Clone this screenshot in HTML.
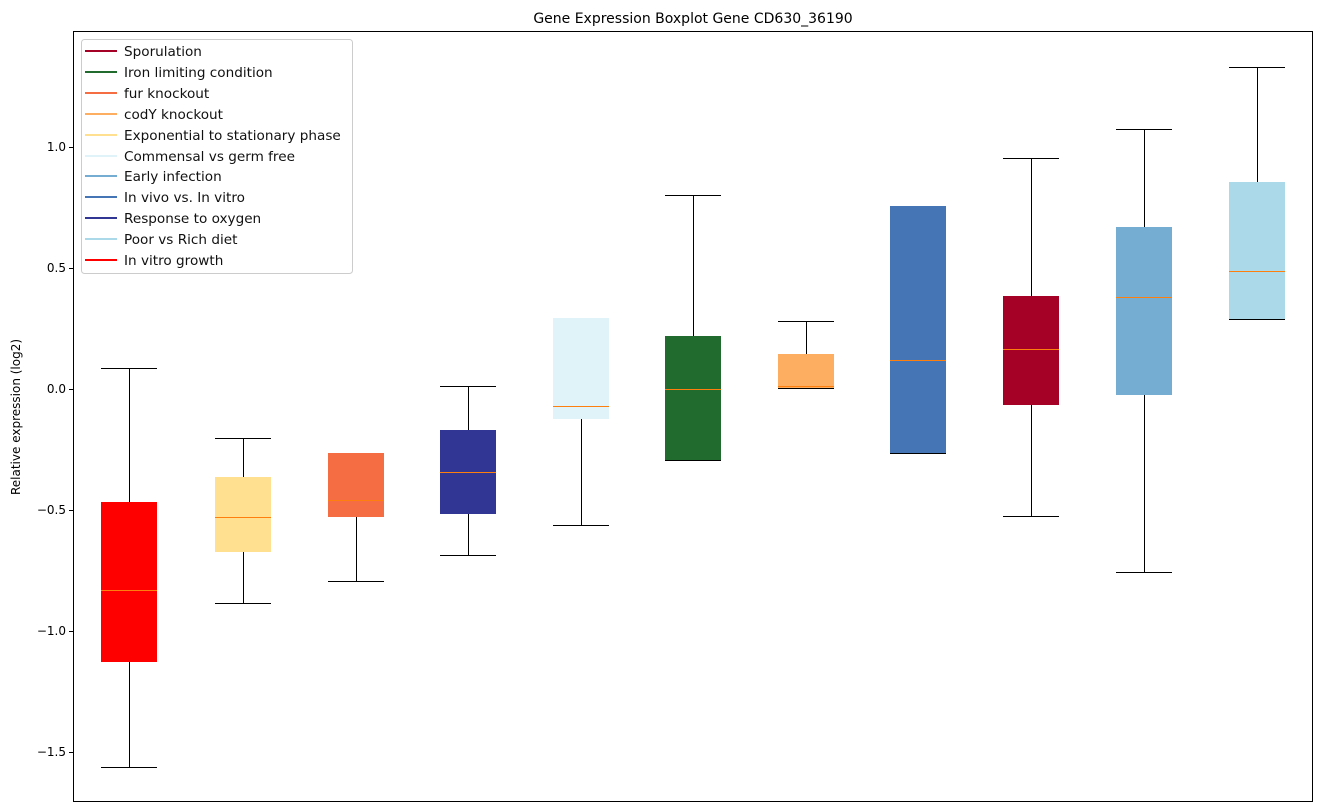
<!DOCTYPE html>
<html><head><style>body{margin:0;background:#fff}svg{display:block;font-family:"DejaVu Sans","Liberation Sans",sans-serif}</style></head><body>
<svg width="1322" height="812" viewBox="0 0 1322 812">
<text x="693" y="23" font-size="14" text-anchor="middle">Gene Expression Boxplot Gene CD630_36190</text>
<rect x="73.5" y="31.5" width="1239" height="770" fill="none" stroke="#000" stroke-width="1"/>
<g stroke="#000" shape-rendering="crispEdges">
<line x1="69" x2="73" y1="147.5" y2="147.5"/><line x1="69" x2="73" y1="268.5" y2="268.5"/><line x1="69" x2="73" y1="389.5" y2="389.5"/><line x1="69" x2="73" y1="510.5" y2="510.5"/><line x1="69" x2="73" y1="631.5" y2="631.5"/><line x1="69" x2="73" y1="752.5" y2="752.5"/>
</g>
<g font-size="12" text-anchor="end">
<text x="66" y="151">1.0</text><text x="66" y="272">0.5</text><text x="66" y="393">0.0</text><text x="66" y="514">−0.5</text><text x="66" y="635">−1.0</text><text x="66" y="756">−1.5</text>
</g>
<text transform="translate(20,417) rotate(-90)" font-size="12" text-anchor="middle">Relative expression (log2)</text>
<g stroke="#000" stroke-width="1" shape-rendering="crispEdges">
<line x1="129.5" x2="129.5" y1="368" y2="502"/><line x1="129.5" x2="129.5" y1="662" y2="767"/><line x1="101" x2="157" y1="368.5" y2="368.5"/><line x1="101" x2="157" y1="767.5" y2="767.5"/>
<line x1="243.5" x2="243.5" y1="438" y2="477"/><line x1="243.5" x2="243.5" y1="552" y2="603"/><line x1="215" x2="271" y1="438.5" y2="438.5"/><line x1="215" x2="271" y1="603.5" y2="603.5"/>
<line x1="356.5" x2="356.5" y1="517" y2="581"/><line x1="328" x2="384" y1="453.5" y2="453.5"/><line x1="328" x2="384" y1="581.5" y2="581.5"/>
<line x1="468.5" x2="468.5" y1="386" y2="430"/><line x1="468.5" x2="468.5" y1="514" y2="555"/><line x1="440" x2="496" y1="386.5" y2="386.5"/><line x1="440" x2="496" y1="555.5" y2="555.5"/>
<line x1="581.5" x2="581.5" y1="419" y2="525"/><line x1="553" x2="609" y1="318.5" y2="318.5"/><line x1="553" x2="609" y1="525.5" y2="525.5"/>
<line x1="693.5" x2="693.5" y1="195" y2="336"/><line x1="665" x2="721" y1="195.5" y2="195.5"/><line x1="665" x2="721" y1="460.5" y2="460.5"/>
<line x1="806.5" x2="806.5" y1="321" y2="354"/><line x1="778" x2="834" y1="321.5" y2="321.5"/><line x1="778" x2="834" y1="388.5" y2="388.5"/>
<line x1="890" x2="946" y1="206.5" y2="206.5"/><line x1="890" x2="946" y1="453.5" y2="453.5"/>
<line x1="1031.5" x2="1031.5" y1="158" y2="296"/><line x1="1031.5" x2="1031.5" y1="405" y2="516"/><line x1="1003" x2="1059" y1="158.5" y2="158.5"/><line x1="1003" x2="1059" y1="516.5" y2="516.5"/>
<line x1="1144.5" x2="1144.5" y1="129" y2="227"/><line x1="1144.5" x2="1144.5" y1="395" y2="572"/><line x1="1116" x2="1172" y1="129.5" y2="129.5"/><line x1="1116" x2="1172" y1="572.5" y2="572.5"/>
<line x1="1257.5" x2="1257.5" y1="67" y2="182"/><line x1="1229" x2="1285" y1="67.5" y2="67.5"/><line x1="1229" x2="1285" y1="319.5" y2="319.5"/>
</g>
<g shape-rendering="crispEdges">
<rect x="101" y="502" width="56" height="160" fill="#ff0000"/>
<rect x="215" y="477" width="56" height="75" fill="#fee090"/>
<rect x="328" y="453" width="56" height="64" fill="#f46d43"/>
<rect x="440" y="430" width="56" height="84" fill="#313695"/>
<rect x="553" y="318" width="56" height="101" fill="#e0f3f8"/>
<rect x="665" y="336" width="56" height="124" fill="#226b2e"/>
<rect x="778" y="354" width="56" height="34" fill="#fdae61"/>
<rect x="890" y="206" width="56" height="247" fill="#4575b4"/>
<rect x="1003" y="296" width="56" height="109" fill="#a50026"/>
<rect x="1116" y="227" width="56" height="168" fill="#74add1"/>
<rect x="1229" y="182" width="56" height="137" fill="#abd9e9"/>
</g>
<g stroke="#ff7f0e" stroke-width="1" shape-rendering="crispEdges">
<line x1="101" x2="157" y1="590.5" y2="590.5"/><line x1="215" x2="271" y1="517.5" y2="517.5"/><line x1="328" x2="384" y1="500.5" y2="500.5"/><line x1="440" x2="496" y1="472.5" y2="472.5"/><line x1="553" x2="609" y1="406.5" y2="406.5"/><line x1="665" x2="721" y1="389.5" y2="389.5"/><line x1="778" x2="834" y1="386.5" y2="386.5"/><line x1="890" x2="946" y1="360.5" y2="360.5"/><line x1="1003" x2="1059" y1="349.5" y2="349.5"/><line x1="1116" x2="1172" y1="297.5" y2="297.5"/><line x1="1229" x2="1285" y1="271.5" y2="271.5"/>
</g>
<rect x="81.5" y="39.5" width="271" height="234" rx="3" fill="#fff" fill-opacity="0.8" stroke="#ccc"/>
<g stroke-width="2">
<line x1="85" x2="117" y1="51" y2="51" stroke="#a50026"/>
<line x1="85" x2="117" y1="72" y2="72" stroke="#226b2e"/>
<line x1="85" x2="117" y1="93" y2="93" stroke="#f46d43"/>
<line x1="85" x2="117" y1="114" y2="114" stroke="#fdae61"/>
<line x1="85" x2="117" y1="135" y2="135" stroke="#fee090"/>
<line x1="85" x2="117" y1="156" y2="156" stroke="#e0f3f8"/>
<line x1="85" x2="117" y1="176" y2="176" stroke="#74add1"/>
<line x1="85" x2="117" y1="197" y2="197" stroke="#4575b4"/>
<line x1="85" x2="117" y1="218" y2="218" stroke="#313695"/>
<line x1="85" x2="117" y1="239" y2="239" stroke="#abd9e9"/>
<line x1="85" x2="117" y1="260" y2="260" stroke="#ff0000"/>
</g>
<g font-size="13.6" fill="#111">
<text x="124" y="56">Sporulation</text>
<text x="124" y="77">Iron limiting condition</text>
<text x="124" y="98">fur knockout</text>
<text x="124" y="119">codY knockout</text>
<text x="124" y="140">Exponential to stationary phase</text>
<text x="124" y="161">Commensal vs germ free</text>
<text x="124" y="181">Early infection</text>
<text x="124" y="202">In vivo vs. In vitro</text>
<text x="124" y="223">Response to oxygen</text>
<text x="124" y="244">Poor vs Rich diet</text>
<text x="124" y="265">In vitro growth</text>
</g>
</svg>
</body></html>
